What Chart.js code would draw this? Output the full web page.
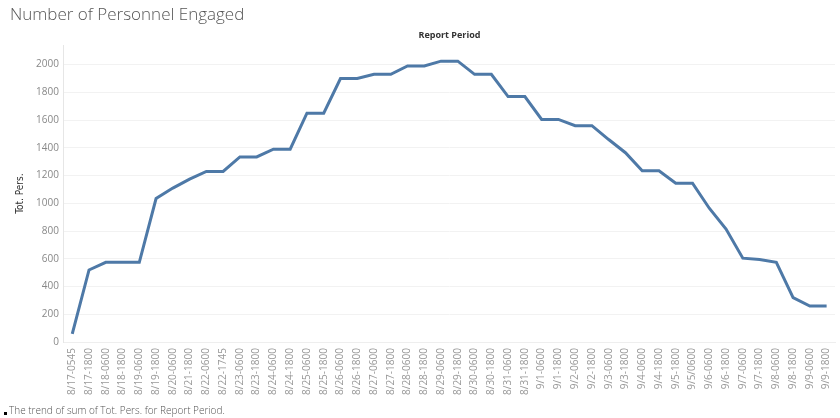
<!DOCTYPE html>
<html>
<head>
<meta charset="utf-8">
<script src="https://cdn.jsdelivr.net/npm/chart.js@4"></script>
<style>
  body { margin: 0; background: #fff; }
  #wrap { position: relative; width: 840px; height: 418px; }
  #footer {
    position: absolute; left: 4px; top: 403px;
    font: 300 10px "Open Sans", sans-serif; color: #555;
  }
  #footer span { display: inline-block; width: 3px; height: 3px; background: #000; margin-right: 2px; vertical-align: -1px; }
</style>
</head>
<body>
<div id="wrap">
  <canvas id="myChart" width="840" height="418"></canvas>
  <div id="footer"><span></span>The trend of sum of Tot. Pers. for Report Period.</div>
</div>
<script>
// report periods on the x axis
const periods = [
  '8/17-0545', '8/17-1800', '8/18-0600', '8/18-1800', '8/19-0600', '8/19-1800',
  '8/20-0600', '8/21-1800', '8/22-0600', '8/22-1745', '8/23-0600', '8/23-1800',
  '8/24-0600', '8/24-1800', '8/25-0600', '8/25-1800', '8/26-0600', '8/26-1800',
  '8/27-0600', '8/27-1800', '8/28-0600', '8/28-1800', '8/29-0600', '8/29-1800',
  '8/30-0600', '8/30-1800', '8/31-0600', '8/31-1800', '9/1-0600', '9/1-1800',
  '9/2-0600', '9/2-1800', '9/3-0600', '9/3-1800', '9/4-0600', '9/4-1800',
  '9/5-1800', '9/5/0600', '9/6-0600', '9/6-1800', '9/7-0600', '9/7-1800',
  '9/8-0600', '9/8-1800', '9/9-0600', '9/9-1800'
]
// Tot. Pers.
const totPers = [
  60, 520, 575, 575, 575, 1035,
  1110, 1175, 1230, 1230, 1335, 1335,
  1390, 1390, 1650, 1650, 1900, 1900,
  1930, 1930, 1990, 1990, 2025, 2025,
  1930, 1930, 1770, 1770, 1605, 1605,
  1560, 1560, 1460, 1365, 1235, 1235,
  1145, 1145, 965, 815, 605, 595,
  575, 320, 260, 260
]
const yTicks = [0, 200, 400, 600, 800, 1000, 1200, 1400, 1600, 1800, 2000]

const data = {
  labels: periods,
  datasets: [{
    label: 'Tot. Pers.',
    data: totPers,
    borderColor: '#4e79a7',
    backgroundColor: '#4e79a7',
    borderWidth: 3,
    pointRadius: 0,
    tension: 0
  }]
}

const config = {
  type: 'line',
  data: data,
  options: {
    responsive: false,
    animation: false,
    layout: { padding: { left: 10, right: 5, bottom: 17 } },
    plugins: {
      legend: { display: false },
      tooltip: { enabled: false },
      title: {
        display: true,
        text: 'Number of Personnel Engaged',
        align: 'start',
        color: '#555',
        font: { family: 'Open Sans', size: 17, weight: '300' },
        padding: { top: 5, bottom: 3 }
      },
      subtitle: {
        display: true,
        text: 'Report Period',
        fullSize: false,
        color: '#333',
        font: { family: 'Open Sans', size: 9, weight: 'bold' },
        padding: { top: 2, bottom: 4 }
      }
    },
    scales: {
      x: {
        offset: true,
        // let the plot run up to the right edge like the original
        afterFit: function(scale) { scale.paddingRight = 0 },
        grid: { display: false, drawTicks: false },
        border: { color: '#eeeeee' },
        ticks: {
          autoSkip: false,
          maxRotation: 90,
          minRotation: 90,
          color: '#999',
          padding: 6,
          font: { family: 'Open Sans', size: 10 }
        }
      },
      y: {
        min: 0,
        max: 2140,
        afterBuildTicks: function(axis) {
          axis.ticks = yTicks.map(function(v) { return { value: v } })
        },
        grid: { color: '#f2f2f2', drawTicks: false },
        border: { color: '#e6e6e6' },
        title: {
          display: true,
          text: 'Tot. Pers.',
          color: '#333',
          font: { family: 'DejaVu Sans Condensed', size: 10 },
          padding: { bottom: 5 }
        },
        ticks: {
          color: '#888',
          padding: 5,
          font: { family: 'Open Sans', size: 10 },
          callback: function(v) { return String(v) }
        }
      }
    }
  }
}

const myChart = new Chart(document.getElementById('myChart'), config)
</script>
</body>
</html>
